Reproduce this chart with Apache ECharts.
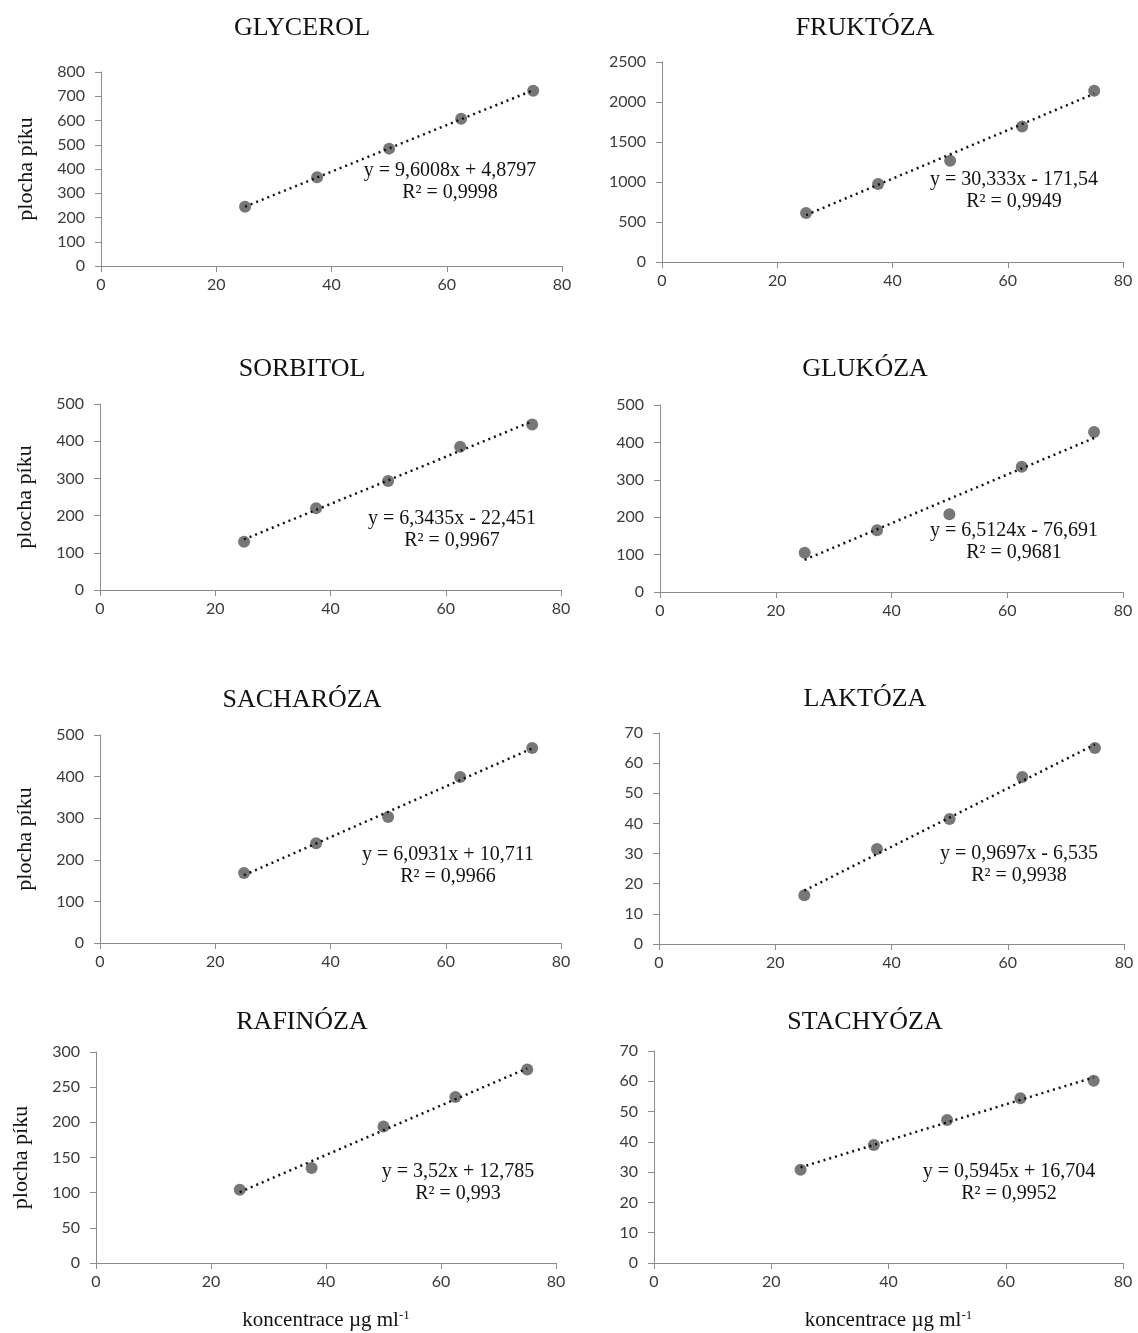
<!DOCTYPE html>
<html>
<head>
<meta charset="utf-8">
<title>Kalibrační křivky</title>
<script src="https://cdn.jsdelivr.net/npm/echarts@6/dist/echarts.min.js"></script>
<style>
  html, body { margin: 0; padding: 0; background: #fff; }
  #chart { width: 1138px; height: 1333px; }
</style>
</head>
<body>
<div id="chart"></div>
<script>
// koncentrace (µg/ml) - společné pro všechny grafy
const concentrations = [25, 37.5, 50, 62.5, 75];

// plochy píků odečtené z grafů
const glycerol = [244, 366, 484, 607, 723];
const fruktoza = [612, 975, 1265, 1695, 2140];
const sorbitol = [130, 220, 293, 385, 445];
const glukoza = [105, 165, 208, 335, 428];
const sacharoza = [168, 240, 303, 399, 469];
const laktoza = [16.2, 31.5, 41.5, 55.4, 65];
const rafinoza = [104, 135, 194, 236, 275];
const stachyoza = [30.8, 39, 47.2, 54.4, 60.2];

const names = ["GLYCEROL", "FRUKTÓZA", "SORBITOL", "GLUKÓZA", "SACHARÓZA", "LAKTÓZA", "RAFINÓZA", "STACHYÓZA"];
const values = [glycerol, fruktoza, sorbitol, glukoza, sacharoza, laktoza, rafinoza, stachyoza];

// lineární regrese (z rovnic v grafech)
const slopes = [9.6008, 30.333, 6.3435, 6.5124, 6.0931, 0.9697, 3.52, 0.5945];
const intercepts = [4.8797, -171.54, -22.451, -76.691, 10.711, -6.535, 12.785, 16.704];
const equations = [
  "y = 9,6008x + 4,8797", "y = 30,333x - 171,54", "y = 6,3435x - 22,451", "y = 6,5124x - 76,691",
  "y = 6,0931x + 10,711", "y = 0,9697x - 6,535", "y = 3,52x + 12,785", "y = 0,5945x + 16,704"
];
const rSquared = ["0,9998", "0,9949", "0,9967", "0,9681", "0,9966", "0,9938", "0,993", "0,9952"];

// osy
const xTicks = [0, 20, 40, 60, 80];
const yMax = [800, 2500, 500, 500, 500, 70, 300, 70];
const yStep = [100, 500, 100, 100, 100, 10, 50, 10];

// rozložení panelů v px: [left, top, right, bottom], titulek, střed prvního řádku rovnice
const panels = [
  { box: [101, 72, 562, 266], titleX: 297, titleY: 10, eq: [450, 171] },
  { box: [662, 62, 1123, 262], titleX: 860, titleY: 10, eq: [1014, 180] },
  { box: [100, 404, 561, 590], titleX: 297, titleY: 351, eq: [452, 519] },
  { box: [660, 405, 1123, 592], titleX: 860, titleY: 351, eq: [1014, 531] },
  { box: [100, 735, 561, 943], titleX: 297, titleY: 682, eq: [448, 855] },
  { box: [659, 733, 1124, 944], titleX: 860, titleY: 681, eq: [1019, 854] },
  { box: [96, 1052, 556, 1263], titleX: 297, titleY: 1004, eq: [458, 1172] },
  { box: [654, 1051, 1123, 1263], titleX: 860, titleY: 1004, eq: [1009, 1172] }
];

const sansFont = "Lato";
const serifFont = "Liberation Serif";
const axisColor = "#8c8c8c";
const labelColor = "#3a3a3a";

const chart = echarts.init(document.getElementById("chart"), null, { renderer: "canvas" });

const grids = [], xAxes = [], yAxes = [], series = [], titles = [], texts = [];

panels.forEach(function (p, i) {
  const left = p.box[0], top = p.box[1], right = p.box[2], bottom = p.box[3];
  const isLeft = i % 2 === 0;
  const isBottom = i >= 6;

  grids.push({ left: left, top: top, width: right - left, height: bottom - top });

  titles.push({
    text: names[i],
    left: p.titleX,
    top: p.titleY,
    textAlign: "center",
    textStyle: { fontFamily: serifFont, fontSize: 26, fontWeight: "normal", color: "#111" }
  });

  xAxes.push({
    type: "value",
    gridIndex: i,
    min: xTicks[0],
    max: xTicks[xTicks.length - 1],
    interval: xTicks[1] - xTicks[0],
    splitLine: { show: false },
    axisLine: { show: true, onZero: false, lineStyle: { color: axisColor, width: 1 } },
    axisTick: { show: true, length: 6, lineStyle: { color: axisColor } },
    axisLabel: { fontFamily: sansFont, fontSize: 16, color: labelColor, margin: 11 },
    name: isBottom ? "{n|koncentrace µg ml}{s|-1}" : "",
    nameLocation: "middle",
    nameGap: 46,
    nameTextStyle: {
      rich: {
        n: { fontFamily: serifFont, fontSize: 21, color: "#111" },
        s: { fontFamily: serifFont, fontSize: 13, color: "#111", verticalAlign: "top", padding: [0, 0, 9, 0] }
      }
    }
  });

  yAxes.push({
    type: "value",
    gridIndex: i,
    min: 0,
    max: yMax[i],
    interval: yStep[i],
    splitLine: { show: false },
    axisLine: { show: true, lineStyle: { color: axisColor, width: 1 } },
    axisTick: { show: true, length: 6, lineStyle: { color: axisColor } },
    axisLabel: {
      fontFamily: sansFont, fontSize: 16, color: labelColor, margin: 16,
      formatter: function (v) { return String(v); }
    },
    name: isLeft ? "plocha píku" : "",
    nameLocation: "middle",
    nameRotate: 90,
    nameGap: 64,
    nameTextStyle: { fontFamily: serifFont, fontSize: 22, color: "#111" }
  });

  // body
  series.push({
    type: "scatter",
    xAxisIndex: i,
    yAxisIndex: i,
    symbol: "circle",
    symbolSize: 12,
    itemStyle: { color: "#555" },
    data: concentrations.map(function (x, k) { return [x, values[i][k]]; }),
    z: 2
  });

  // spojnice trendu
  const x0 = concentrations[0], x1 = concentrations[concentrations.length - 1];
  series.push({
    type: "line",
    xAxisIndex: i,
    yAxisIndex: i,
    showSymbol: false,
    silent: true,
    lineStyle: { color: "#111", width: 2.5, type: [2, 4] },
    data: [[x0, slopes[i] * x0 + intercepts[i]], [x1, slopes[i] * x1 + intercepts[i]]],
    z: 3
  });

  texts.push({
    type: "text",
    x: p.eq[0],
    y: p.eq[1] - 11,
    style: {
      text: equations[i] + "\nR² = " + rSquared[i],
      fontFamily: serifFont,
      fontSize: 20,
      lineHeight: 22,
      fill: "#111",
      align: "center",
      verticalAlign: "top"
    },
    z: 10
  });
});

chart.setOption({
  backgroundColor: "#fff",
  animation: false,
  title: titles,
  grid: grids,
  xAxis: xAxes,
  yAxis: yAxes,
  series: series,
  graphic: texts
});
</script>
</body>
</html>
